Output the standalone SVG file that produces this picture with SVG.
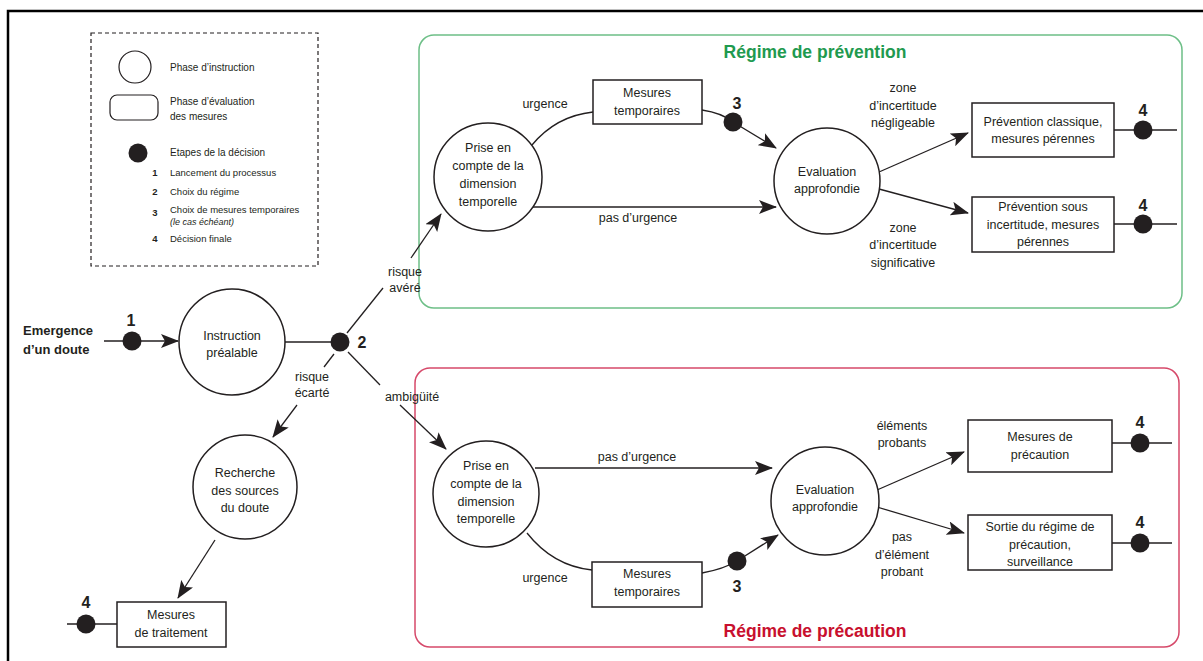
<svg xmlns="http://www.w3.org/2000/svg" width="1203" height="661" viewBox="0 0 1203 661">
<defs>
<style>
.t{font-family:"Liberation Sans",Arial,sans-serif;font-size:12.5px;fill:#231f20;text-anchor:middle}
.b{font-family:"Liberation Sans",Arial,sans-serif;font-size:13px;font-weight:bold;fill:#231f20}
.n{font-family:"Liberation Sans",Arial,sans-serif;font-size:16px;font-weight:bold;fill:#231f20;text-anchor:middle}
.lg{font-family:"Liberation Sans",Arial,sans-serif;font-size:10px;fill:#231f20}
.ln{font-family:"Liberation Sans",Arial,sans-serif;font-size:9.5px;font-weight:bold;fill:#231f20;text-anchor:middle}
.s{fill:none;stroke:#231f20;stroke-width:1.3}
.a{fill:none;stroke:#231f20;stroke-width:1.3;marker-end:url(#arr)}
.node{fill:#fff;stroke:#231f20;stroke-width:1.5}
.dot{fill:#231f20}
.ttl{font-family:"Liberation Sans",Arial,sans-serif;font-size:17.5px;font-weight:bold;text-anchor:middle}
</style>
<marker id="arr" viewBox="0 0 18 14" refX="17" refY="7" markerWidth="18" markerHeight="14" markerUnits="userSpaceOnUse" orient="auto">
<path d="M0,0 L18,7 L0,14 L4,7 z" fill="#231f20"/>
</marker>
</defs>
<rect x="0" y="0" width="1203" height="661" fill="#fff"/>
<path d="M8,661 L8,11 L1203,11" fill="none" stroke="#000" stroke-width="2.5"/>

<g id="legend">
<rect x="91" y="33" width="227" height="233" fill="none" stroke="#231f20" stroke-width="1.2" stroke-dasharray="4,3"/>
<circle cx="135" cy="67" r="16" fill="#fff" stroke="#231f20" stroke-width="1.2"/>
<text class="lg" x="170" y="71">Phase d’instruction</text>
<rect x="110" y="95" width="48" height="25" rx="7" fill="#fff" stroke="#231f20" stroke-width="1.2"/>
<text class="lg" x="170" y="105">Phase d’évaluation</text>
<text class="lg" x="170" y="120">des mesures</text>
<circle class="dot" cx="138" cy="153" r="9.5"/>
<text class="lg" x="170" y="156">Etapes de la décision</text>
<text class="ln" x="155" y="176">1</text>
<text class="lg" x="170" y="176" style="font-size:9.5px">Lancement du processus</text>
<text class="ln" x="155" y="195">2</text>
<text class="lg" x="170" y="195" style="font-size:9.5px">Choix du régime</text>
<text class="ln" x="155" y="216">3</text>
<text class="lg" x="170" y="213" style="font-size:9.5px">Choix de mesures temporaires</text>
<text class="lg" x="170" y="225" style="font-size:9px;font-style:italic">(le cas échéant)</text>
<text class="ln" x="155" y="242">4</text>
<text class="lg" x="170" y="242" style="font-size:9.5px">Décision finale</text>
</g>

<g id="regime-prevention">
<rect x="419" y="35" width="763" height="273" rx="15" fill="none" stroke="#6dbf87" stroke-width="1.5"/>
<text class="ttl" x="815" y="58" fill="#1f9a4f">Régime de prévention</text>
</g>
<g id="regime-precaution">
<rect x="415" y="368" width="764" height="279" rx="15" fill="none" stroke="#d6496a" stroke-width="1.5"/>
<text class="ttl" x="815" y="637" fill="#c8102e">Régime de précaution</text>
</g>

<g id="connectors">
<line class="a" x1="104" y1="341" x2="178" y2="341"/>
<line class="s" x1="285" y1="342" x2="340" y2="342"/>
<line class="s" x1="347" y1="333" x2="383" y2="288"/>
<line class="a" x1="411" y1="258" x2="441" y2="214"/>
<line class="s" x1="348" y1="352" x2="380" y2="385"/>
<line class="a" x1="400" y1="405" x2="446" y2="449"/>
<line class="s" x1="334" y1="354" x2="324" y2="367"/>
<line class="a" x1="297" y1="405" x2="273" y2="437"/>
<line class="a" x1="215" y1="540" x2="178" y2="598"/>
<line class="s" x1="67" y1="624" x2="117" y2="624"/>

<path class="s" d="M532,145 Q556,116 593,112"/>
<path class="a" d="M702,110 Q722,113 733,122 L776,148"/>
<line class="a" x1="532" y1="207" x2="776" y2="207"/>
<line class="a" x1="879" y1="172" x2="968" y2="133"/>
<line class="a" x1="879" y1="189" x2="968" y2="213"/>
<line class="s" x1="1114" y1="130" x2="1177" y2="130"/>
<line class="s" x1="1114" y1="224" x2="1177" y2="224"/>

<line class="a" x1="535" y1="468" x2="772" y2="468"/>
<path class="s" d="M527,533 Q553,566 592,570"/>
<path class="a" d="M702,573 Q724,569 737,561 L778,535"/>
<line class="a" x1="877" y1="490" x2="964" y2="452"/>
<line class="a" x1="877" y1="507" x2="964" y2="533"/>
<line class="s" x1="1112" y1="443" x2="1172" y2="443"/>
<line class="s" x1="1112" y1="543" x2="1172" y2="543"/>

<text class="t" x="405" y="276">risque</text>
<text class="t" x="405" y="292">avéré</text>
<text class="t" x="412" y="401">ambigüité</text>
<text class="t" x="312" y="381">risque</text>
<text class="t" x="312" y="397">écarté</text>
<text class="t" x="545" y="108">urgence</text>
<text class="t" x="638" y="222">pas d’urgence</text>
<text class="t" x="903" y="92">zone</text>
<text class="t" x="903" y="110">d’incertitude</text>
<text class="t" x="903" y="127">négligeable</text>
<text class="t" x="903" y="232">zone</text>
<text class="t" x="903" y="249">d’incertitude</text>
<text class="t" x="903" y="267">significative</text>
<text class="t" x="637" y="461">pas d’urgence</text>
<text class="t" x="545" y="582">urgence</text>
<text class="t" x="902" y="430">éléments</text>
<text class="t" x="902" y="447">probants</text>
<text class="t" x="902" y="541">pas</text>
<text class="t" x="902" y="559">d’élément</text>
<text class="t" x="902" y="576">probant</text>
</g>

<g id="emergence">
<text class="b" x="23" y="335">Emergence</text>
<text class="b" x="23" y="354">d’un doute</text>
</g>
<g id="step1"><circle class="dot" cx="132" cy="341" r="9.5"/><text class="n" x="131" y="326">1</text></g>
<g id="instruction">
<circle class="node" cx="232" cy="342" r="53"/>
<text class="t" x="232" y="340">Instruction</text>
<text class="t" x="232" y="357">préalable</text>
</g>
<g id="step2"><circle class="dot" cx="340" cy="342" r="9.5"/><text class="n" x="362" y="348">2</text></g>
<g id="recherche">
<circle class="node" cx="245" cy="487" r="52"/>
<text class="t" x="245" y="477">Recherche</text>
<text class="t" x="245" y="495">des sources</text>
<text class="t" x="245" y="512">du doute</text>
</g>
<g id="traitement">
<rect class="node" x="117" y="602" width="109" height="45"/>
<text class="t" x="171" y="619">Mesures</text>
<text class="t" x="171" y="637">de traitement</text>
</g>
<g id="step4-traitement"><circle class="dot" cx="86" cy="624" r="9.5"/><text class="n" x="86" y="608">4</text></g>

<g id="prise-prevention">
<circle class="node" cx="488" cy="177" r="54"/>
<text class="t" x="488" y="152">Prise en</text>
<text class="t" x="488" y="170">compte de la</text>
<text class="t" x="488" y="188">dimension</text>
<text class="t" x="488" y="206">temporelle</text>
</g>
<g id="mesures-temp-prevention">
<rect class="node" x="593" y="80" width="109" height="44"/>
<text class="t" x="647" y="97">Mesures</text>
<text class="t" x="647" y="115">temporaires</text>
</g>
<g id="step3-prevention"><circle class="dot" cx="733" cy="122" r="9.5"/><text class="n" x="737" y="109">3</text></g>
<g id="evaluation-prevention">
<circle class="node" cx="827" cy="181" r="53"/>
<text class="t" x="827" y="176">Evaluation</text>
<text class="t" x="827" y="193">approfondie</text>
</g>
<g id="prevention-classique">
<rect class="node" x="972" y="103" width="142" height="54"/>
<text class="t" x="1043" y="126">Prévention classique,</text>
<text class="t" x="1043" y="143">mesures pérennes</text>
</g>
<g id="step4-classique"><circle class="dot" cx="1143" cy="130" r="9.5"/><text class="n" x="1143" y="116">4</text></g>
<g id="prevention-incertitude">
<rect class="node" x="972" y="197" width="142" height="55"/>
<text class="t" x="1043" y="211">Prévention sous</text>
<text class="t" x="1043" y="229">incertitude, mesures</text>
<text class="t" x="1043" y="246">pérennes</text>
</g>
<g id="step4-incertitude"><circle class="dot" cx="1143" cy="224" r="9.5"/><text class="n" x="1143" y="211">4</text></g>

<g id="prise-precaution">
<circle class="node" cx="486" cy="494" r="53"/>
<text class="t" x="486" y="470">Prise en</text>
<text class="t" x="486" y="488">compte de la</text>
<text class="t" x="486" y="506">dimension</text>
<text class="t" x="486" y="523">temporelle</text>
</g>
<g id="mesures-temp-precaution">
<rect class="node" x="592" y="562" width="110" height="45"/>
<text class="t" x="647" y="578">Mesures</text>
<text class="t" x="647" y="596">temporaires</text>
</g>
<g id="step3-precaution"><circle class="dot" cx="737" cy="561" r="9.5"/><text class="n" x="737" y="592">3</text></g>
<g id="evaluation-precaution">
<circle class="node" cx="825" cy="501" r="54"/>
<text class="t" x="825" y="494">Evaluation</text>
<text class="t" x="825" y="511">approfondie</text>
</g>
<g id="mesures-precaution">
<rect class="node" x="968" y="420" width="144" height="52"/>
<text class="t" x="1040" y="441">Mesures de</text>
<text class="t" x="1040" y="459">précaution</text>
</g>
<g id="step4-mesures-precaution"><circle class="dot" cx="1140" cy="443" r="9.5"/><text class="n" x="1140" y="428">4</text></g>
<g id="sortie-precaution">
<rect class="node" x="968" y="515" width="144" height="55"/>
<text class="t" x="1040" y="531">Sortie du régime de</text>
<text class="t" x="1040" y="549">précaution,</text>
<text class="t" x="1040" y="566">surveillance</text>
</g>
<g id="step4-sortie"><circle class="dot" cx="1140" cy="543" r="9.5"/><text class="n" x="1140" y="528">4</text></g>
</svg>
